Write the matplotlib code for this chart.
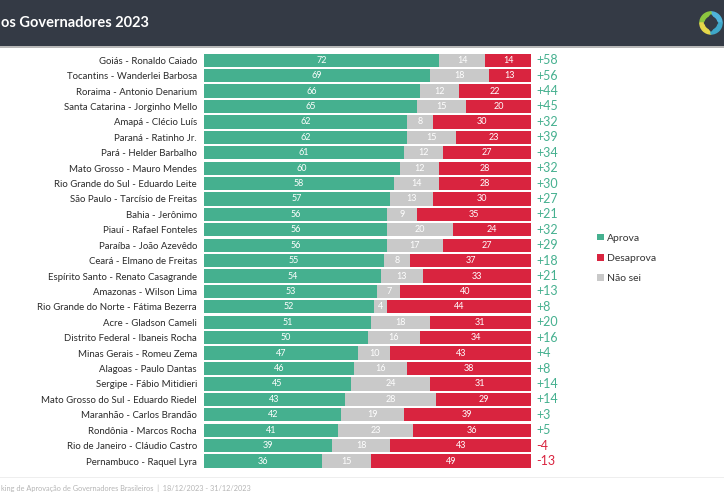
"""
Ranking de aprovação dos governadores 2023 - barras empilhadas
"""

import matplotlib.pyplot as plt
from matplotlib.patches import Rectangle, Wedge, Polygon

plt.rcParams['font.family'] = ['Lato', 'DejaVu Sans']

# Dados
governadores = [
    'Goiás - Ronaldo Caiado', 'Tocantins - Wanderlei Barbosa',
    'Roraima - Antonio Denarium', 'Santa Catarina - Jorginho Mello',
    'Amapá - Clécio Luís', 'Paraná - Ratinho Jr.', 'Pará - Helder Barbalho',
    'Mato Grosso - Mauro Mendes', 'Rio Grande do Sul - Eduardo Leite',
    'São Paulo - Tarcísio de Freitas', 'Bahia - Jerônimo',
    'Piauí - Rafael Fonteles', 'Paraíba - João Azevêdo',
    'Ceará - Elmano de Freitas', 'Espírito Santo - Renato Casagrande',
    'Amazonas - Wilson Lima', 'Rio Grande do Norte - Fátima Bezerra',
    'Acre - Gladson Cameli', 'Distrito Federal - Ibaneis Rocha',
    'Minas Gerais - Romeu Zema', 'Alagoas - Paulo Dantas',
    'Sergipe - Fábio Mitidieri', 'Mato Grosso do Sul - Eduardo Riedel',
    'Maranhão - Carlos Brandão', 'Rondônia - Marcos Rocha',
    'Rio de Janeiro - Cláudio Castro', 'Pernambuco - Raquel Lyra',
]
aprova = [72, 69, 66, 65, 62, 62, 61, 60, 58, 57, 56, 56, 56, 55, 54, 53,
          52, 51, 50, 47, 46, 45, 43, 42, 41, 39, 36]
nao_sei = [14, 18, 12, 15, 8, 15, 12, 12, 14, 13, 9, 20, 17, 8, 13, 7,
           4, 18, 16, 10, 16, 24, 28, 19, 23, 18, 15]
desaprova = [14, 13, 22, 20, 30, 23, 27, 28, 28, 30, 35, 24, 27, 37, 33, 40,
             44, 31, 34, 43, 38, 31, 29, 39, 36, 43, 49]
saldo = [58, 56, 44, 45, 32, 39, 34, 32, 30, 27, 21, 32, 29, 18, 21, 13,
         8, 20, 16, 4, 8, 14, 14, 3, 5, -4, -13]

COR_APROVA = '#45b08f'
COR_DESAPROVA = '#d9243f'
COR_NAO_SEI = '#c9c9c9'
COR_HEADER = '#343a45'

fig = plt.figure(figsize=(7.24, 4.99), dpi=100)
fig.patch.set_facecolor('white')

# Cabeçalho
fig.patches.append(Rectangle((0, 0.908), 1, 0.092, transform=fig.transFigure,
                             facecolor=COR_HEADER, edgecolor='none',
                             zorder=-2))
fig.patches.append(Rectangle((0, 0.903), 1, 0.005, transform=fig.transFigure,
                             facecolor='#b8b8b8', edgecolor='none',
                             zorder=-2))
fig.text(0.001, 0.954, 'os Governadores 2023', color='white', size=10.5,
         weight='bold', va='center', ha='left')

# Logo
lax = fig.add_axes([0.964, 0.912, 0.036, 0.084])
lax.set_xlim(-1, 1)
lax.set_ylim(-1, 1)
lax.set_aspect('equal')
lax.axis('off')
for t1, t2, col in [(0, 90, '#4fb3d9'), (90, 180, '#8cc63f'),
                    (180, 270, '#e6d84a'), (270, 360, '#3fa7c9')]:
    lax.add_patch(Wedge((0, 0), 0.85, t1, t2, width=0.3, color=col))
lax.add_patch(Polygon([(0, 0.62), (0.5, 0), (0, -0.62), (-0.5, 0)],
                      closed=True, color=COR_HEADER))

# Barras
ax = fig.add_axes([0.2818, 0.0607, 0.4517, 0.834])
y = list(range(len(governadores)))
esq_nao = [a for a in aprova]
esq_des = [a + n for a, n in zip(aprova, nao_sei)]
h = 0.86
ax.barh(y, aprova, height=h, color=COR_APROVA, label='Aprova')
ax.barh(y, desaprova, left=esq_des, height=h, color=COR_DESAPROVA,
        label='Desaprova')
ax.barh(y, nao_sei, left=esq_nao, height=h, color=COR_NAO_SEI,
        label='Não sei')

for i in y:
    ax.text(aprova[i] / 2, i, str(aprova[i]), color='white', size=6.5,
            ha='center', va='center')
    ax.text(esq_nao[i] + nao_sei[i] / 2, i, str(nao_sei[i]), color='white',
            size=6.5, ha='center', va='center')
    ax.text(esq_des[i] + desaprova[i] / 2, i, str(desaprova[i]),
            color='white', size=6.5, ha='center', va='center')
    s = saldo[i]
    ax.text(101.5, i, f'+{s}' if s > 0 else str(s),
            color=COR_APROVA if s > 0 else COR_DESAPROVA, size=9,
            ha='left', va='center')

ax.set_xlim(0, 100)
ax.set_ylim(len(governadores) - 0.5, -0.5)
ax.set_yticks(y)
ax.set_yticklabels(governadores, size=6.9, color='#2a2a2a')
ax.tick_params(axis='y', length=0, pad=5)
ax.set_xticks([])
for sp in ax.spines.values():
    sp.set_visible(False)

# Legenda
handles, labels = ax.get_legend_handles_labels()
fig.legend(handles, labels, loc='center left',
           bbox_to_anchor=(0.812, 0.482), frameon=False, fontsize=7.5,
           handlelength=0.6, handleheight=0.6, handletextpad=0.3,
           labelspacing=1.1, labelcolor='#333333')

# Rodapé
fig.patches.append(Rectangle((0, 0.043), 1, 0.002, transform=fig.transFigure,
                             facecolor='#eeeeee', edgecolor='none',
                             zorder=-2))
fig.text(0.001, 0.022,
         'king de Aprovação de Governadores Brasileiros  |  '
         '18/12/2023 - 31/12/2023', color='#b5b5b5', size=5.3,
         va='center', ha='left')

fig.savefig('out.png', dpi=100)
